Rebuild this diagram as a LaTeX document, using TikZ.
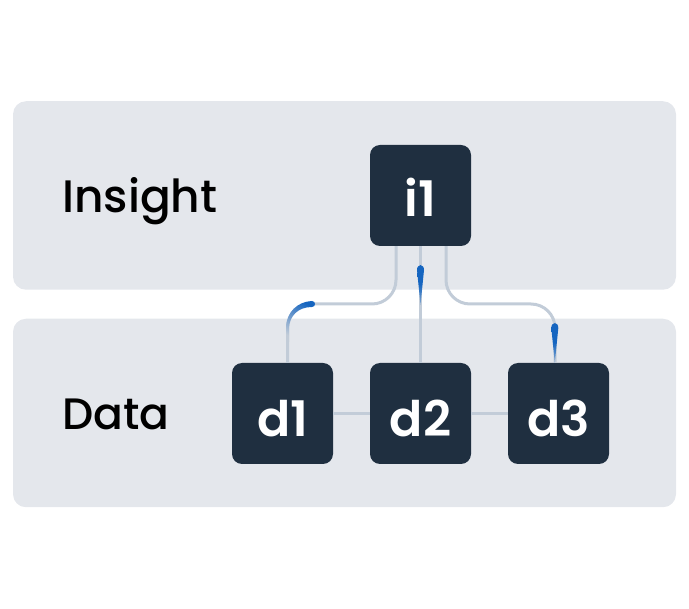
\documentclass[tikz,border=0pt]{standalone}
\usepackage{fontspec}
\setmainfont{Poppins Medium}
\newfontfamily\boxfont{Poppins SemiBold}
\usetikzlibrary{calc}
\definecolor{bandgray}{HTML}{E4E7EC}
\definecolor{boxnavy}{HTML}{1F2F40}
\definecolor{linkgray}{HTML}{C2CCD8}
\definecolor{pulseblue}{HTML}{1565C0}
\tikzset{
  band/.style={fill=bandgray,rounded corners=13pt,minimum width=663pt,minimum height=188.5pt,inner sep=0pt},
  box/.style={fill=boxnavy,rounded corners=10pt,minimum size=101pt,inner sep=0pt,text=white},
  boxtext/.style={anchor=base,inner sep=0pt,text=white,font=\boxfont\fontsize{49}{49}\selectfont},
  tier/.style={anchor=base west,inner sep=0pt,font=\fontsize{45.5}{45.5}\selectfont},
  link/.style={draw=linkgray,line width=3pt},
  pulse/.style={top color=pulseblue,bottom color=pulseblue!35!linkgray,middle color=pulseblue}
}
\begin{document}
\begin{tikzpicture}[x=1pt,y=-1pt]
  \useasboundingbox (0,0) rectangle (689,609);
  \node[band] (insight) at (344.5,195.5) {};
  \node[band] (data) at (344.5,413) {};
  \node[tier] (insightlabel) at (62,213) {Insight};
  \node[tier,font=\fontsize{44}{44}\selectfont] (datalabel) at (62,430) {Data};
  \node[box] (i1) at (420.5,195.5) {};
  \node[boxtext] (i1text) at (420.5,217) {i1};
  \foreach \name/\x in {d1/282.5,d2/420.5,d3/558.5} {
    \node[box] (\name) at (\x,413.5) {};
    \node[boxtext] (\name text) at (\x,437) {\name};
  }
  \draw[link] (d1) -- (d2);
  \draw[link] (d2) -- (d3);
  \draw[link,line width=2.6pt] (i1) -- (d2);
  \draw[link,rounded corners=24pt] ($(i1.south)+(-24.5,0)$) |- (287.5,304) -- ($(d1.north)+(5,0)$);
  \draw[link,rounded corners=24pt] ($(i1.south)+(25.5,0)$) |- (555,304) -- ($(d3.north)+(-3.5,0)$);
  \foreach \x/\y in {420.5/265,554.8/323} {
    \shade[pulse] (\x,\y+40) -- (\x-3.5,\y+5) .. controls (\x-3.5,\y-1.5) and (\x+3.5,\y-1.5) .. (\x+3.5,\y+5) -- cycle;
  }
  \shade[top color=pulseblue,bottom color=linkgray,shading angle=-30] (312,301) .. controls (298,301.5) and (286,312) .. (286,328) -- (286,342) -- (289,342) -- (289,328) .. controls (289.5,316) and (298,307) .. (312,307) .. controls (316,307) and (316,301) .. (312,301) -- cycle;
\end{tikzpicture}
\end{document}
